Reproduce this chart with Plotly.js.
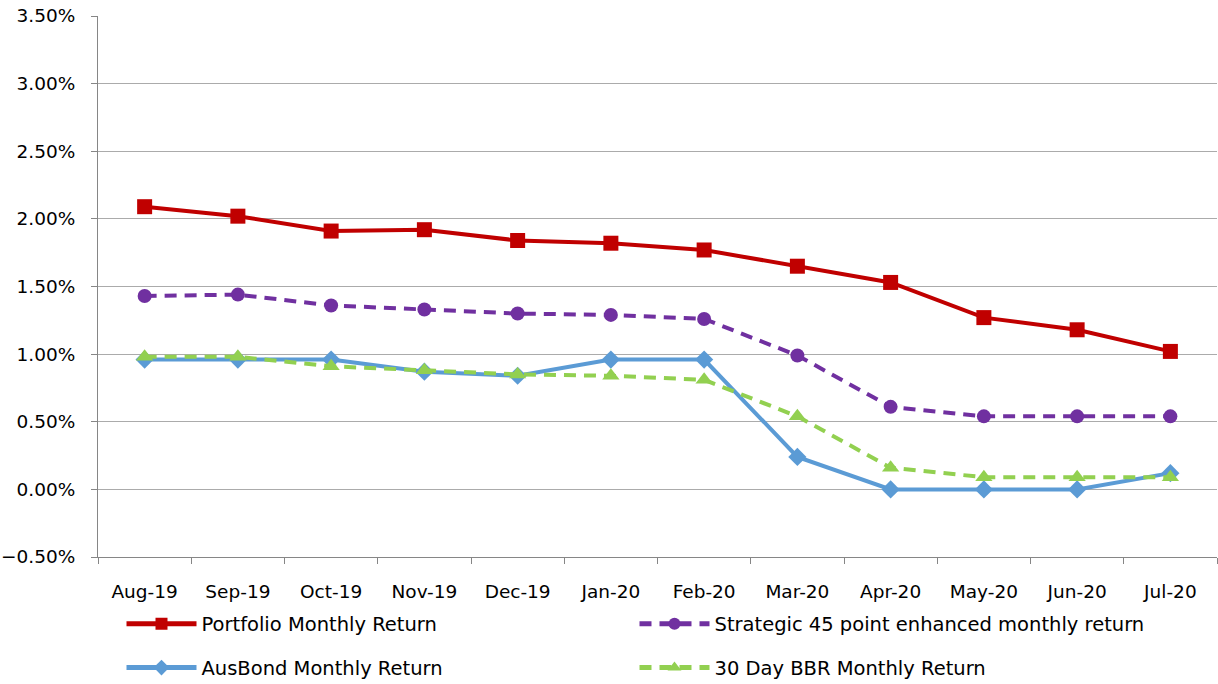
<!DOCTYPE html>
<html>
<head>
<meta charset="utf-8">
<script src="https://cdn.plot.ly/plotly-3.0.1.min.js"></script>
<style>html,body{margin:0;padding:0;background:#fff}#chart{width:1218px;height:684px}</style>
</head>
<body>
<div id="chart"></div>
<script>
const months = ["Aug-19","Sep-19","Oct-19","Nov-19","Dec-19","Jan-20","Feb-20","Mar-20","Apr-20","May-20","Jun-20","Jul-20"];
const portfolio = [2.09,2.02,1.91,1.92,1.84,1.82,1.77,1.65,1.53,1.27,1.18,1.02];
const strategic = [1.43,1.44,1.36,1.33,1.30,1.29,1.26,0.99,0.61,0.54,0.54,0.54];
const ausbond   = [0.96,0.96,0.96,0.87,0.84,0.96,0.96,0.24,0.00,0.00,0.00,0.12];
const bbr       = [0.98,0.98,0.91,0.88,0.85,0.84,0.81,0.54,0.16,0.09,0.09,0.09];
const yTicks = [-0.5,0,0.5,1,1.5,2,2.5,3,3.5];

const pct = a => a.map(v => v/100);
const FONT = "'DejaVu Sans', sans-serif";

const traces = [
  {x: months, y: pct(portfolio), name: "Portfolio Monthly Return", mode: "lines+markers",
   line: {color: "#C00000", width: 4}, marker: {symbol: "square", size: 15, color: "#C00000"}, legend: "legend"},
  {x: months, y: pct(strategic), name: "Strategic 45 point enhanced monthly return", mode: "lines+markers",
   line: {color: "#7030A0", width: 4, dash: "12px,8px"}, marker: {symbol: "circle", size: 14, color: "#7030A0"}, legend: "legend"},
  {x: months, y: pct(ausbond), name: "AusBond Monthly Return", mode: "lines+markers",
   line: {color: "#5B9BD5", width: 4}, marker: {symbol: "diamond", size: 14, color: "#5B9BD5"}, legend: "legend2"},
  {x: months, y: pct(bbr), name: "30 Day BBR Monthly Return", mode: "lines+markers",
   line: {color: "#92D050", width: 4, dash: "12px,8px"}, marker: {symbol: "triangle-up", size: 15, color: "#92D050"}, legend: "legend2"}
];

const legendBase = {orientation: "h", xanchor: "left", yanchor: "middle", x: 0.021,
  font: {family: FONT, size: 19.5, color: "#000"}, entrywidth: 428, entrywidthmode: "pixels",
  itemwidth: 70, itemsizing: "constant", bgcolor: "rgba(0,0,0,0)"};

const layout = {
  width: 1218, height: 684,
  margin: {l: 98, r: 1, t: 16, b: 127, autoexpand: false},
  paper_bgcolor: "#fff", plot_bgcolor: "#fff",
  showlegend: true,
  font: {family: FONT, size: 18, color: "#000"},
  xaxis: {type: "category", tickson: "boundaries", ticks: "outside", ticklen: 6, tickcolor: "#868686",
    showline: true, linecolor: "#868686", linewidth: 1, showgrid: false, zeroline: false,
    tickfont: {family: FONT, size: 18.5, color: "#000"}, range: [-0.5, 11.5], ticklabelstandoff: 18},
  yaxis: {range: [-0.005, 0.035], tickvals: pct(yTicks), tickformat: ".2%", ticks: "outside", ticklen: 6,
    tickcolor: "#868686", showline: true, linecolor: "#868686", linewidth: 1,
    showgrid: true, gridcolor: "#ABABAB", gridwidth: 1, zeroline: false,
    tickfont: {family: FONT, size: 18.5, color: "#000"}, ticklabelstandoff: 12},
  legend: Object.assign({}, legendBase, {y: -0.124}),
  legend2: Object.assign({}, legendBase, {y: -0.205})
};

Plotly.newPlot("chart", traces, layout, {displayModeBar: false, staticPlot: true});
</script>
</body>
</html>
